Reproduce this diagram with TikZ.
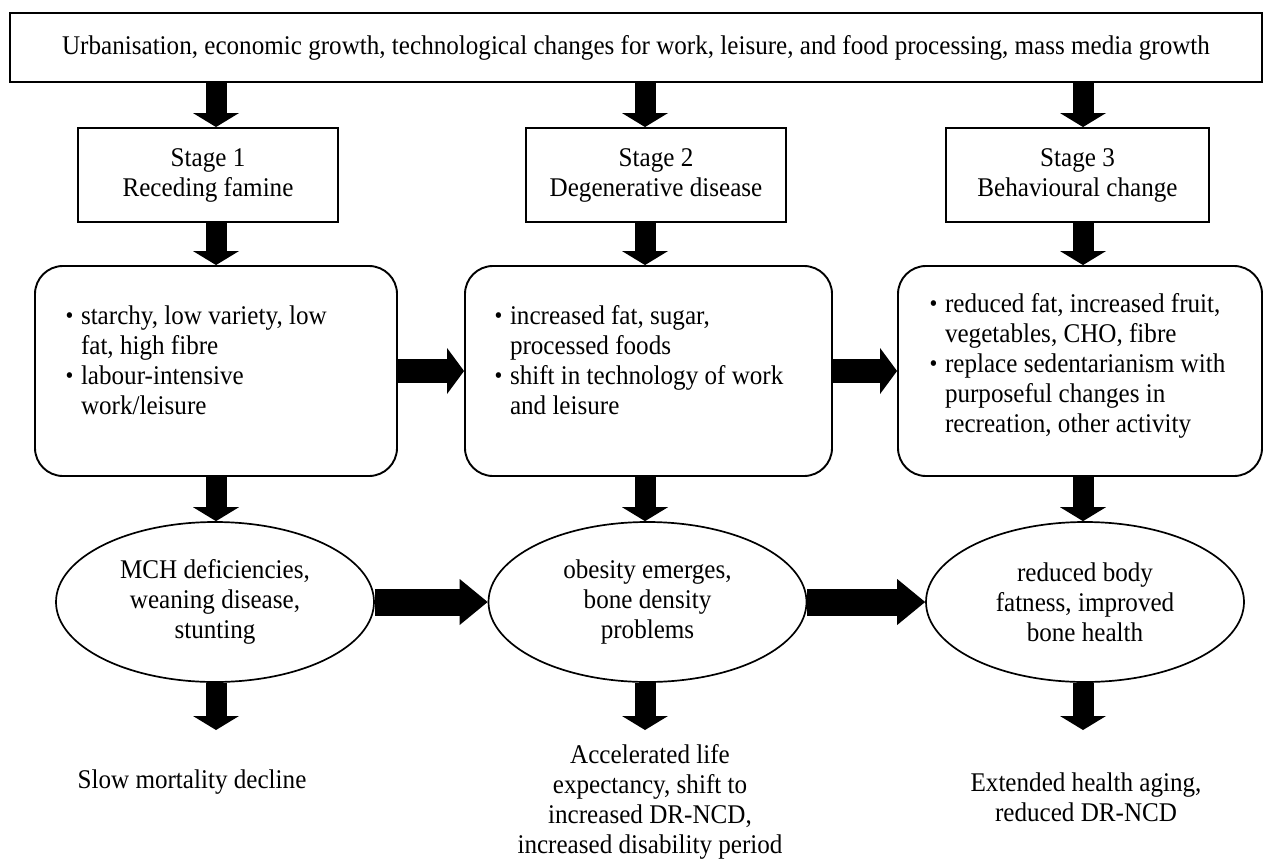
\documentclass[tikz,border=0pt]{standalone}
\usepackage{fontspec}
\setmainfont{Liberation Serif}[FakeStretch=0.93]
\usetikzlibrary{arrows.meta,shapes.geometric}
\newcommand\dotb{\makebox[16pt][l]{\hspace{0.5pt}\raisebox{0.5pt}{\fontsize{24}{24}\selectfont\textbullet}}}
\begin{document}
\begin{tikzpicture}[x=1pt,y=-1pt,
  every node/.style={font=\fontsize{27}{30}\selectfont, inner sep=0pt},
  topbox/.style={draw, line width=1.9pt, minimum width=1252pt, minimum height=69pt},
  stagebox/.style={draw, line width=1.9pt, minimum width=260pt, minimum height=94pt, align=center},
  rbox/.style={draw, line width=1.9pt, rounded corners=28pt, minimum width=#1, minimum height=210pt},
  ovalnode/.style={draw, ellipse, line width=1.7pt, minimum width=318pt, minimum height=160pt, align=center},
  outtext/.style={align=center},
  varrow/.style={line width=21pt, -{Triangle[length=14pt,width=46pt,line width=0pt]}},
  harrow/.style={line width=24pt, -{Triangle[length=17pt,width=46pt,line width=0pt]}},
  earrow/.style={line width=27pt, -{Triangle[length=28pt,width=46pt,line width=0pt]}},
]
\useasboundingbox (0,0) rectangle (1265,859);
\fill[white] (0,0) rectangle (1265,859);

\coordinate (c1) at (216,0);
\coordinate (c2) at (645,0);
\coordinate (c3) at (1083,0);

\node[topbox] (top) at (636,47.5) {Urbanisation, economic growth, technological changes for work, leisure, and food processing, mass media growth};

\node[stagebox] (s1) at (208,175) {Stage 1\\Receding famine};
\node[stagebox] (s2) at (656,175) {Stage 2\\Degenerative disease};
\node[stagebox, minimum width=263pt] (s3) at (1077.5,175) {Stage 3\\Behavioural change};

\node[rbox=362pt] (b1) at (216,371) {\parbox[c][210pt][t]{362pt}{\vspace*{37pt}\hspace*{30pt}\begin{tabular}[t]{@{}l@{}l@{}}\dotb & starchy, low variety, low\\ & fat, high fibre\\ \dotb & labour-intensive\\ & work/leisure\end{tabular}}};
\node[rbox=367pt] (b2) at (648.5,371) {\parbox[c][210pt][t]{367pt}{\vspace*{37pt}\hspace*{29pt}\begin{tabular}[t]{@{}l@{}l@{}}\dotb & increased fat, sugar,\\ & processed foods\\ \dotb & shift in technology of work\\ & and leisure\end{tabular}}};
\node[rbox=364pt] (b3) at (1080,371) {\parbox[c][210pt][t]{364pt}{\vspace*{25pt}\hspace*{31pt}\begin{tabular}[t]{@{}l@{}l@{}}\dotb & reduced fat, increased fruit,\\ & vegetables, CHO, fibre\\ \dotb & replace sedentarianism with\\ & purposeful changes in\\ & recreation, other activity\end{tabular}}};

\node[ovalnode] (e1) at (215,602) {MCH deficiencies,\\weaning disease,\\stunting};
\node[ovalnode] (e2) at (647.5,602) {obesity emerges,\\bone density\\problems};
\node[ovalnode] (e3) at (1085,602) {reduced body\\fatness, improved\\bone health};

\node[outtext] (o1) at (192,782) {Slow mortality decline};
\node[outtext] (o2) at (650,802) {Accelerated life\\expectancy, shift to\\increased DR-NCD,\\increased disability period};
\node[outtext] (o3) at (1086,797) {Extended health aging,\\reduced DR-NCD};

\coordinate (d1) at (216,730);
\coordinate (d2) at (645,730);
\coordinate (d3) at (1083,730);

\foreach \i in {1,2,3}{
  \draw[varrow] (top.south -| c\i) -- (s\i.north -| c\i);
  \draw[varrow] (s\i.south -| c\i) -- (b\i.north -| c\i);
  \draw[varrow] (b\i.south -| c\i) -- (e\i.north -| c\i);
  \draw[varrow] (e\i.south -| c\i) -- (d\i);
}
\draw[harrow] (b1.east) -- (b2.west);
\draw[harrow] (b2.east) -- (b3.west);
\draw[earrow] (e1.east) -- (e2.west);
\draw[earrow] (e2.east) -- (e3.west);
\end{tikzpicture}
\end{document}
